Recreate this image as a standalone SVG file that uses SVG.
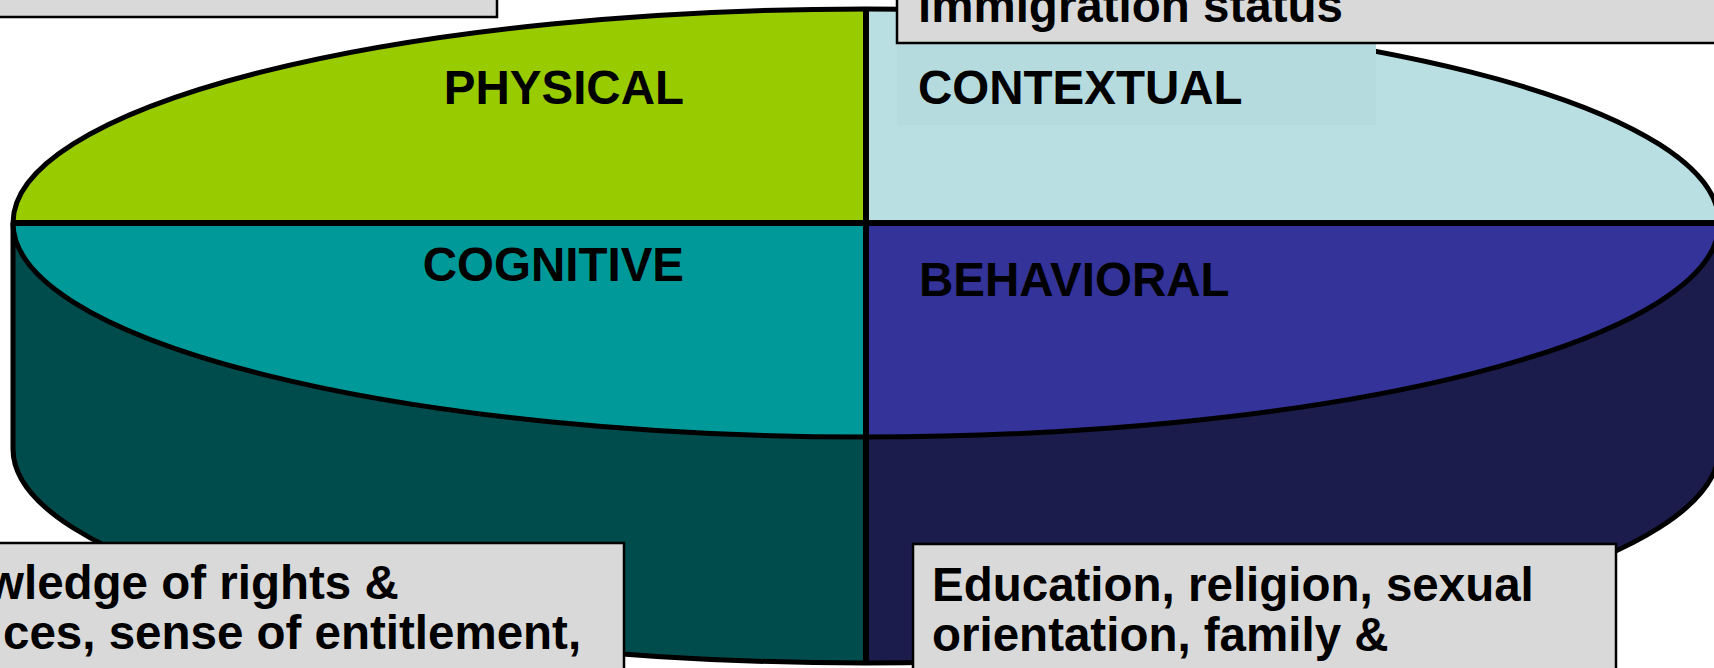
<svg xmlns="http://www.w3.org/2000/svg" width="1714" height="668" viewBox="0 0 1714 668">
<style>
.lbl{font-family:"Liberation Sans",Arial,sans-serif;font-weight:bold;font-size:47.5px;fill:#000}
.box{fill:#D9D9D9;stroke:#000;stroke-width:2.5}
.edge{fill:none;stroke:#000;stroke-width:5;stroke-linejoin:round}
</style>
<rect x="0" y="0" width="1714" height="668" fill="#FFFFFF"/>
<g id="cylinder-wall">
<path d="M13,223 L13,449 A853,214 0 0 0 866,663 L866,223 Z" fill="#004C4C"/>
<path d="M866,223 L866,663 A853,214 0 0 0 1719,449 L1719,223 Z" fill="#1C1C4C"/>
<path class="edge" d="M13,223 L13,449 A853,214 0 0 0 1719,449 L1719,223"/>
</g>
<g id="physical">
<path d="M866,223 L13,223 A853,214 0 0 1 866,9 Z" fill="#99CC00"/>
</g>
<g id="contextual">
<path d="M866,223 L866,9 A853,214 0 0 1 1719,223 Z" fill="#B9DFE3"/>
</g>
<g id="cognitive">
<path d="M866,223 L13,223 A853,214 0 0 0 866,437 Z" fill="#009999"/>
</g>
<g id="behavioral">
<path d="M866,223 L866,437 A853,214 0 0 0 1719,223 Z" fill="#333399"/>
</g>
<g id="top-outline">
<ellipse class="edge" cx="866" cy="223" rx="853" ry="214"/>
</g>
<g id="connectors">
<path d="M13,223 L1719,223" stroke="#000" stroke-width="6"/>
<path d="M866,9 L866,663" stroke="#000" stroke-width="6"/>
</g>
<g id="labels">
<rect x="897" y="44" width="479" height="81" fill="#B6DBDF"/>
<text class="lbl" x="684" y="104" text-anchor="end">PHYSICAL</text>
<text class="lbl" x="918" y="104">CONTEXTUAL</text>
<text class="lbl" x="684" y="281" text-anchor="end">COGNITIVE</text>
<text class="lbl" x="919" y="296">BEHAVIORAL</text>
</g>
<g id="box-top-left">
<rect class="box" x="-10" y="-10" width="507" height="27"/>
</g>
<g id="box-top-right">
<rect class="box" x="897" y="-20" width="830" height="63"/>
<text class="lbl" x="918" y="22">immigration status</text>
</g>
<g id="box-bottom-left">
<rect class="box" x="-10" y="543" width="634" height="140"/>
<text class="lbl" x="-13" y="599">wledge of rights &amp;</text>
<text class="lbl" x="3" y="649">ces, sense of entitlement,</text>
</g>
<g id="box-bottom-right">
<rect class="box" x="913" y="544" width="703" height="140"/>
<text class="lbl" x="932" y="601">Education, religion, sexual</text>
<text class="lbl" x="932" y="651">orientation, family &amp;</text>
</g>
</svg>
